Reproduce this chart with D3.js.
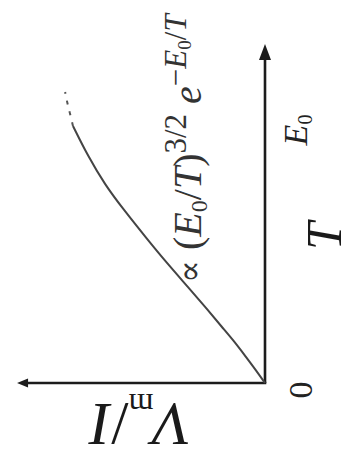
<!DOCTYPE html>
<html>
<head>
<meta charset="utf-8">
<script src="https://cdn.jsdelivr.net/npm/d3@7"></script>
<style>
  html, body { margin: 0; padding: 0; background: #fff; }
  svg { display: block; }
  text { font-family: "Liberation Serif", "Times New Roman", "DejaVu Serif", serif; }
</style>
</head>
<body>
<div id="chart"></div>
<script>
// Temperature in units of E0 and the inverse quantity on the vertical axis (arbitrary units)
const tempSolid   = [0, 0.051, 0.103, 0.170, 0.221, 0.292, 0.379, 0.478, 0.569, 0.688, 0.783, 0.897, 1.016];
const valueSolid  = [0, 0.036, 0.075, 0.126, 0.170, 0.229, 0.304, 0.391, 0.466, 0.561, 0.632, 0.700, 0.759];
// Dotted continuation beyond E0
const tempDotted  = [1.016, 1.07, 1.11, 1.15];
const valueDotted = [0.759, 0.772, 0.782, 0.79];
// Axis extents and the tick marked on the temperature axis
const tAxisMax = 1.34;
const vAxisMax = 0.98;
const tTickValue = 1.0;
const tTickLabel = "E";
const originLabel = "0";

const W = 351, H = 473;
const origin = { x: 265, y: 383 };

const svg = d3.select("#chart").append("svg")
  .attr("width", W).attr("height", H);

// The plot is drawn in its natural orientation and turned a quarter turn
const g = svg.append("g")
  .attr("transform", `translate(${origin.x},${origin.y}) rotate(-90)`);

const x = d3.scaleLinear().domain([0, 1]).range([0, 253]);
const y = d3.scaleLinear().domain([0, 1]).range([0, -253]);

const axisColor = "#1c1c1c";

// temperature axis with arrow
g.append("line")
  .attr("x1", x(0)).attr("y1", 0)
  .attr("x2", x(tAxisMax) - 12).attr("y2", 0)
  .attr("stroke", axisColor).attr("stroke-width", 2.6);
g.append("path")
  .attr("d", `M${x(tAxisMax)},0 L${x(tAxisMax) - 16},-6 L${x(tAxisMax) - 16},6 Z`)
  .attr("fill", axisColor);

// vertical (value) axis with arrow
g.append("line")
  .attr("x1", 0).attr("y1", y(0) + 1.3)
  .attr("x2", 0).attr("y2", y(vAxisMax) + 8)
  .attr("stroke", axisColor).attr("stroke-width", 2.6);
g.append("path")
  .attr("d", `M0,${y(vAxisMax)} L-4.5,${y(vAxisMax) + 11} L4.5,${y(vAxisMax) + 11} Z`)
  .attr("fill", axisColor);

// curve
const line = d3.line()
  .x(d => x(d[0]))
  .y(d => y(d[1]))
  .curve(d3.curveBasis);

g.append("path")
  .datum(tempSolid.map((t, i) => [t, valueSolid[i]]))
  .attr("d", line)
  .attr("fill", "none")
  .attr("stroke", "#444")
  .attr("stroke-width", 2);

g.append("path")
  .datum(tempDotted.map((t, i) => [t, valueDotted[i]]))
  .attr("d", line)
  .attr("fill", "none")
  .attr("stroke", "#555")
  .attr("stroke-width", 2)
  .attr("stroke-dasharray", "4,7");

// origin label
g.append("text")
  .attr("x", -7).attr("y", 47)
  .attr("text-anchor", "middle")
  .attr("font-size", 34)
  .attr("fill", "#222")
  .text(originLabel);

// E0 tick label
const e0 = g.append("text")
  .attr("x", x(tTickValue)).attr("y", 42)
  .attr("text-anchor", "middle")
  .attr("font-size", 34)
  .attr("fill", "#222");
e0.append("tspan").attr("font-style", "italic").text(tTickLabel);
e0.append("tspan").attr("font-size", 20).attr("dy", 5).text("0");

// temperature axis title
g.append("text")
  .attr("x", 147).attr("y", 76)
  .attr("text-anchor", "middle")
  .attr("font-size", 50)
  .attr("font-style", "italic")
  .attr("fill", "#1a1a1a")
  .text("T");

// value axis title
const yl = g.append("text")
  .attr("transform", "translate(-21,-124) rotate(-90)")
  .attr("text-anchor", "middle")
  .attr("font-size", 62)
  .attr("fill", "#1a1a1a");
yl.append("tspan").attr("font-style", "italic").text("V");
yl.append("tspan").attr("font-size", 32).attr("dy", 10).text("m");
yl.append("tspan").attr("dy", -10).text("/");
yl.append("tspan").attr("font-style", "italic").text("I");

// curve formula label
const f = g.append("text")
  .attr("x", 100).attr("y", -64)
  .attr("font-size", 40)
  .attr("fill", "#333");
f.append("tspan").attr("font-family", "DejaVu Serif").attr("font-size", 34).text("\u221D");
f.append("tspan").text(" (");
f.append("tspan").attr("font-style", "italic").text("E");
f.append("tspan").attr("font-size", 24).attr("dy", 6).text("0");
f.append("tspan").attr("dy", -6).text("/");
f.append("tspan").attr("font-style", "italic").text("T");
f.append("tspan").text(")");
f.append("tspan").attr("font-size", 31).attr("dy", -15).text("3/2");
f.append("tspan").attr("dy", 15).attr("font-style", "italic").text(" e");
f.append("tspan").attr("font-size", 31).attr("dy", -15).text("\u2212");
f.append("tspan").attr("font-size", 31).attr("font-style", "italic").text("E");
f.append("tspan").attr("font-size", 19).attr("dy", 5).text("0");
f.append("tspan").attr("font-size", 31).attr("dy", -5).text("/");
f.append("tspan").attr("font-size", 31).attr("font-style", "italic").text("T");
</script>
</body>
</html>
